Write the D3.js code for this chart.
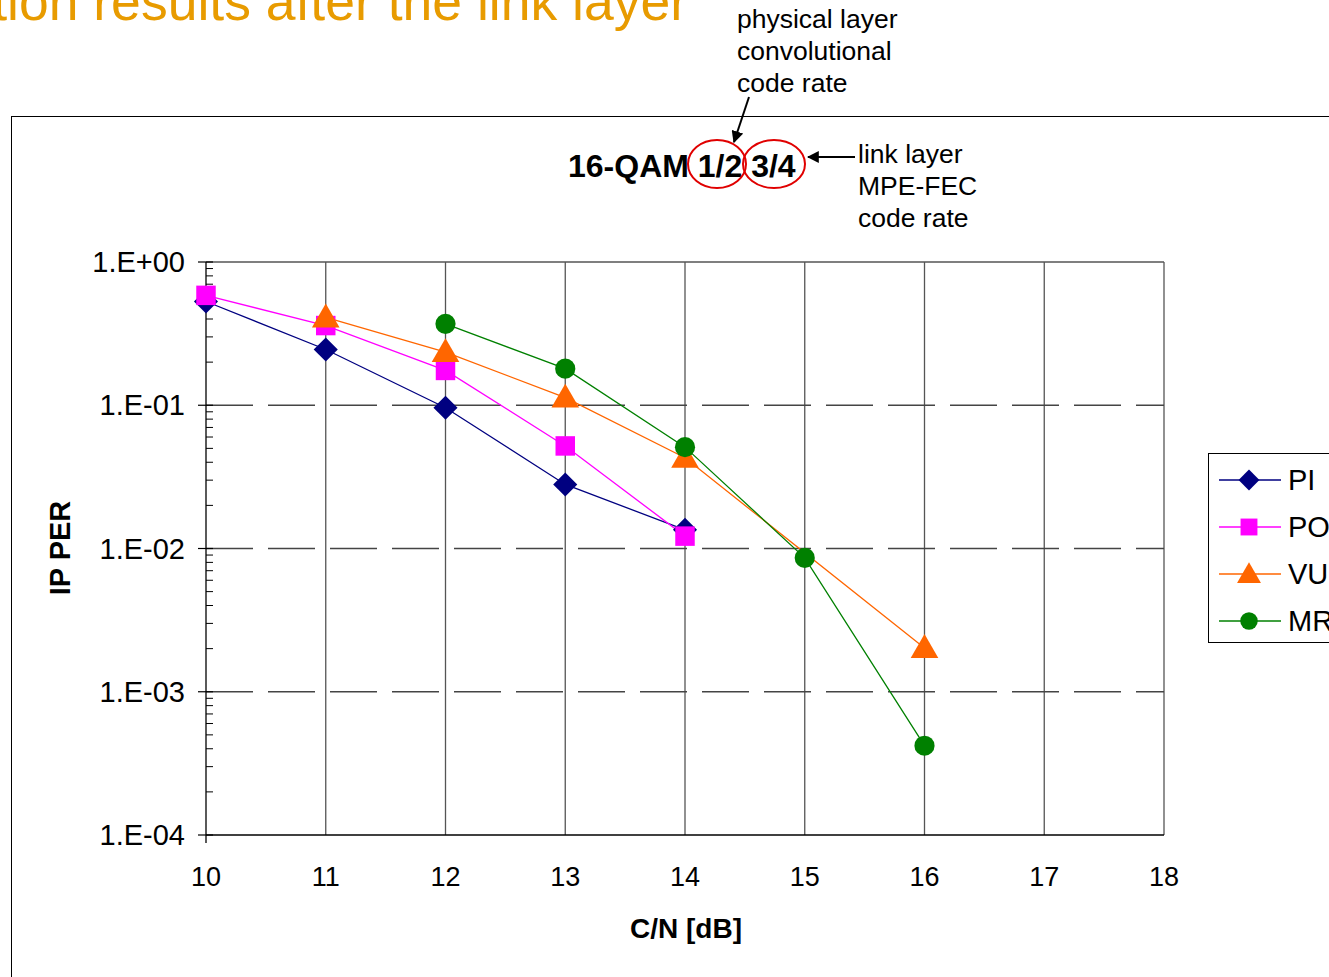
<!DOCTYPE html>
<html><head><meta charset="utf-8">
<script src="https://cdn.jsdelivr.net/npm/d3@7"></script>
<style>body{margin:0;background:#fff;}svg{display:block;font-family:"Liberation Sans",Arial,sans-serif;}</style>
</head><body>
<svg id="c" width="1329" height="977"></svg>
<script>
const xValues = [10, 11, 12, 13, 14, 15, 16];
const seriesNames = ["PI", "PO", "VU", "MR"];
const seriesColors = ["#000080", "#FF00FF", "#FF6600", "#008000"];
const piValues = [0.53, 0.245, 0.096, 0.028, 0.0135, null, null];
const poValues = [0.585, 0.36, 0.175, 0.052, 0.0122, null, null];
const vuValues = [null, 0.41, 0.235, 0.113, 0.043, null, 0.00202];
const mrValues = [null, null, 0.37, 0.18, 0.051, 0.0086, 0.00042];
const xTicks = [10, 11, 12, 13, 14, 15, 16, 17, 18];
const yTicks = [1, 0.1, 0.01, 0.001, 0.0001];
const yTickLabels = ["1.E+00", "1.E-01", "1.E-02", "1.E-03", "1.E-04"];

const svg = d3.select("#c");
const x = d3.scaleLinear().domain([10, 18]).range([206, 1164]);
const y = d3.scaleLog().domain([1e-4, 1]).range([835, 262]);

// title (cut off by the page edge as in the reference)
svg.append("text").attr("x", 688).attr("y", 20).attr("text-anchor", "end")
  .attr("font-size", 53.5).attr("fill", "#E89B00").text("Simulation results after the link layer");

// chart frame
svg.append("rect").attr("x", 11.5).attr("y", 116.5).attr("width", 1400).attr("height", 1000)
  .attr("fill", "none").attr("stroke", "#000").attr("stroke-width", 1);

const g = svg.append("g");
xTicks.slice(1).forEach(v => {
  g.append("line").attr("x1", x(v)).attr("x2", x(v)).attr("y1", 262).attr("y2", 835)
    .attr("stroke", "#555").attr("stroke-width", 1.3);
});
yTicks.slice(1, 4).forEach(v => {
  g.append("line").attr("x1", 206).attr("x2", 1164).attr("y1", y(v)).attr("y2", y(v))
    .attr("stroke", "#444").attr("stroke-width", 1.3).attr("stroke-dasharray", "47,15");
});
g.append("line").attr("x1", 206).attr("x2", 1164).attr("y1", 262).attr("y2", 262).attr("stroke", "#555").attr("stroke-width", 1.3);
g.append("line").attr("x1", 206).attr("x2", 1164).attr("y1", 835).attr("y2", 835).attr("stroke", "#000").attr("stroke-width", 1.3);

// y axis
const minors = [];
for (let e = -4; e < 0; e++) for (let m = 2; m <= 9; m++) minors.push(m * Math.pow(10, e));
svg.append("line").attr("x1", 206).attr("x2", 206).attr("y1", 262).attr("y2", 843).attr("stroke", "#000").attr("stroke-width", 1.3);
minors.forEach(v => svg.append("line").attr("x1", 206).attr("x2", 213).attr("y1", y(v)).attr("y2", y(v)).attr("stroke", "#000").attr("stroke-width", 1));
yTicks.forEach((v, i) => {
  svg.append("line").attr("x1", 198).attr("x2", 213).attr("y1", y(v)).attr("y2", y(v)).attr("stroke", "#000").attr("stroke-width", 1.2);
  svg.append("text").attr("x", 185).attr("y", y(v) + 10).attr("text-anchor", "end")
    .attr("font-size", 29).text(yTickLabels[i]);
});
xTicks.forEach(v => {
  svg.append("text").attr("x", x(v)).attr("y", 886).attr("text-anchor", "middle").attr("font-size", 27).text(v);
});

svg.append("text").attr("x", 686).attr("y", 938).attr("text-anchor", "middle").attr("font-size", 28).attr("font-weight", "bold").text("C/N [dB]");
svg.append("text").attr("transform", "translate(70,548) rotate(-90)").attr("text-anchor", "middle").attr("font-size", 29).attr("font-weight", "bold").text("IP PER");

// symbols
const diamond = { draw(ctx, size) { const r = Math.sqrt(size / 2); ctx.moveTo(0, -r); ctx.lineTo(r, 0); ctx.lineTo(0, r); ctx.lineTo(-r, 0); ctx.closePath(); } };
const allVals = [piValues, poValues, vuValues, mrValues];
const symbols = [diamond, d3.symbolSquare, d3.symbolTriangle, d3.symbolCircle];
const sizes = [290, 380, 330, 320];
const line = d3.line().x(d => x(d[0])).y(d => y(d[1]));
allVals.forEach((vals, si) => {
  const pts = xValues.map((xv, i) => [xv, vals[i]]).filter(d => d[1] != null);
  svg.append("path").attr("d", line(pts)).attr("fill", "none").attr("stroke", seriesColors[si]).attr("stroke-width", 1.3);
});
allVals.forEach((vals, si) => {
  const pts = xValues.map((xv, i) => [xv, vals[i]]).filter(d => d[1] != null);
  svg.selectAll(null).data(pts).enter().append("path")
    .attr("transform", d => `translate(${x(d[0])},${y(d[1]) + (si === 2 ? 2 : 0)})`)
    .attr("d", d3.symbol().type(symbols[si]).size(sizes[si]))
    .attr("fill", seriesColors[si]);
});

// legend
svg.append("rect").attr("x", 1208.5).attr("y", 453.5).attr("width", 200).attr("height", 189).attr("fill", "#fff").attr("stroke", "#000").attr("stroke-width", 1);
seriesNames.forEach((n, i) => {
  const ly = 480 + i * 47;
  svg.append("line").attr("x1", 1219).attr("x2", 1281).attr("y1", ly).attr("y2", ly).attr("stroke", seriesColors[i]).attr("stroke-width", 1.3);
  svg.append("path").attr("transform", `translate(1249,${ly + (i === 2 ? 2 : 0)})`).attr("d", d3.symbol().type(symbols[i]).size(sizes[i] * 0.75)).attr("fill", seriesColors[i]);
  svg.append("text").attr("x", 1288).attr("y", ly + 10).attr("font-size", 29).text(n);
});

// annotation
svg.append("defs").append("marker").attr("id", "ah").attr("viewBox", "0 0 10 10").attr("refX", 9).attr("refY", 5)
  .attr("markerWidth", 6).attr("markerHeight", 6).attr("orient", "auto")
  .append("path").attr("d", "M0,0 L10,5 L0,10 Z").attr("fill", "#000");
svg.append("text").attr("x", 568).attr("y", 177).attr("font-size", 32).attr("font-weight", "bold").text("16-QAM 1/2 3/4");
svg.append("ellipse").attr("cx", 717).attr("cy", 164).attr("rx", 29).attr("ry", 24).attr("fill", "none").attr("stroke", "#E00000").attr("stroke-width", 2);
svg.append("ellipse").attr("cx", 774).attr("cy", 164).attr("rx", 31).attr("ry", 24).attr("fill", "none").attr("stroke", "#E00000").attr("stroke-width", 2);
svg.append("line").attr("x1", 749).attr("y1", 97).attr("x2", 734).attr("y2", 142).attr("stroke", "#000").attr("stroke-width", 2).attr("marker-end", "url(#ah)");
svg.append("line").attr("x1", 855).attr("y1", 157).attr("x2", 808).attr("y2", 157).attr("stroke", "#000").attr("stroke-width", 2).attr("marker-end", "url(#ah)");
["physical layer", "convolutional", "code rate"].forEach((t, i) => {
  svg.append("text").attr("x", 737).attr("y", 28 + i * 32).attr("font-size", 26.5).text(t);
});
["link layer", "MPE-FEC", "code rate"].forEach((t, i) => {
  svg.append("text").attr("x", 858).attr("y", 163 + i * 32).attr("font-size", 26.5).text(t);
});
</script>
</body></html>
